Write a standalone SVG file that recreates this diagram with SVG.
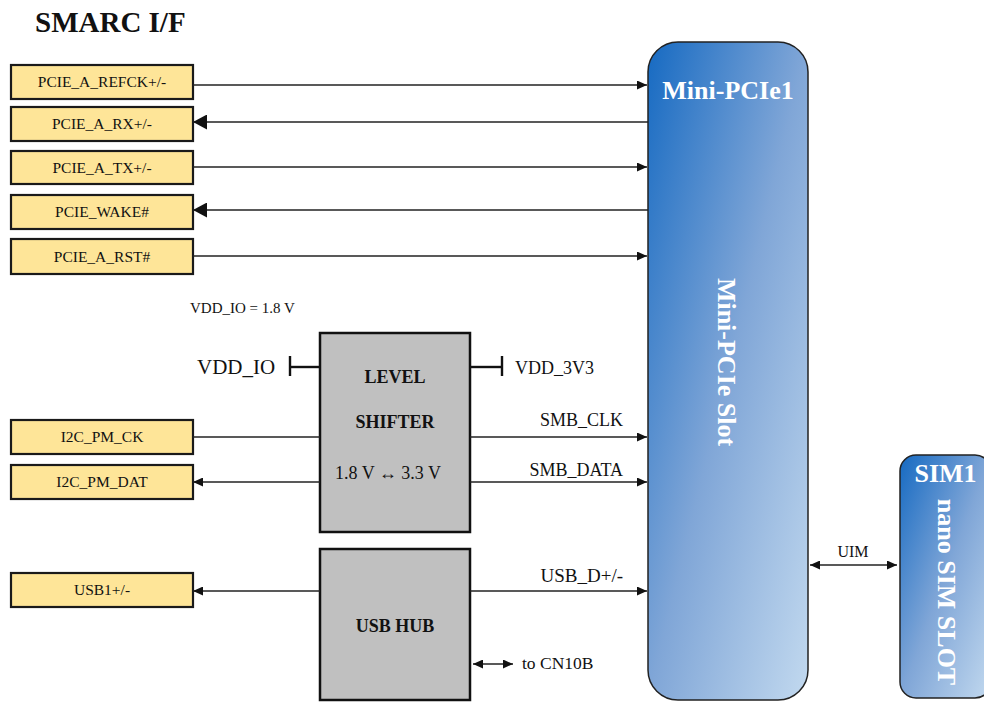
<svg xmlns="http://www.w3.org/2000/svg" width="984" height="702" viewBox="0 0 984 702">
<style>
text{font-family:"Liberation Serif","Times New Roman",serif;fill:#111}
.y rect{fill:#fee598;stroke:#1a1a1a;stroke-width:2.2}
.y text{font-size:15.5px;text-anchor:middle}
.g rect{fill:#c0c0c0;stroke:#111;stroke-width:2.5}
.g text{font-size:18px;text-anchor:middle;font-weight:bold}
.w{fill:#fff;font-weight:bold;font-size:26px;text-anchor:middle}
.ln{stroke:#222;stroke-width:1.4;fill:none}
.pw{stroke:#111;stroke-width:2.4;fill:none}
</style>
<defs>
<linearGradient id="bl" x1="0" y1="0" x2="1" y2="1">
<stop offset="0" stop-color="#166ac2"/>
<stop offset="0.5" stop-color="#80a6d7"/>
<stop offset="1" stop-color="#c2d9ef"/>
</linearGradient>
<marker id="as" markerUnits="userSpaceOnUse" markerWidth="10" markerHeight="9" refX="10" refY="4.5" orient="auto-start-reverse">
<path d="M0,0 L10,4.5 L0,9 z" fill="#111"/>
</marker>
<marker id="al" markerUnits="userSpaceOnUse" markerWidth="14" markerHeight="15" refX="14" refY="7.5" orient="auto">
<path d="M0,0 L14,7.5 L0,15 z" fill="#111"/>
</marker>
</defs>
<rect width="984" height="702" fill="#fff"/>

<text x="35" y="32" font-size="29" font-weight="bold">SMARC I/F</text>
<text x="190" y="313" font-size="15">VDD_IO = 1.8 V</text>

<g id="mini-pcie">
<rect x="648" y="42" width="160" height="658" rx="30" fill="url(#bl)" stroke="#222" stroke-width="1.5"/>
<text class="w" x="728" y="99">Mini-PCIe1</text>
<text class="w" transform="translate(718,362) rotate(90)">Mini-PCIe Slot</text>
</g>

<g id="sim1">
<rect x="900" y="455" width="91" height="243" rx="16" fill="url(#bl)" stroke="#222" stroke-width="1.5"/>
<text class="w" x="945.5" y="482">SIM1</text>
<text class="w" transform="translate(938,592) rotate(90)">nano SIM SLOT</text>
</g>

<g id="pcie-refck" class="y"><rect x="11" y="65" width="182" height="34"/><text x="102" y="87">PCIE_A_REFCK+/-</text></g>
<g id="pcie-rx" class="y"><rect x="11" y="107" width="182" height="34"/><text x="102" y="129">PCIE_A_RX+/-</text></g>
<g id="pcie-tx" class="y"><rect x="11" y="151" width="182" height="33"/><text x="102" y="172.5">PCIE_A_TX+/-</text></g>
<g id="pcie-wake" class="y"><rect x="11" y="195" width="182" height="34"/><text x="102" y="217">PCIE_WAKE#</text></g>
<g id="pcie-rst" class="y"><rect x="11" y="239" width="182" height="35"/><text x="102" y="261.5">PCIE_A_RST#</text></g>
<g id="i2c-ck" class="y"><rect x="11" y="420" width="182" height="34"/><text x="102" y="442">I2C_PM_CK</text></g>
<g id="i2c-dat" class="y"><rect x="11" y="465" width="182" height="34"/><text x="102" y="487">I2C_PM_DAT</text></g>
<g id="usb1" class="y"><rect x="11" y="573" width="182" height="34"/><text x="102" y="595">USB1+/-</text></g>

<g id="level-shifter" class="g">
<rect x="320" y="333" width="150" height="199"/>
<text x="395" y="383">LEVEL</text>
<text x="395" y="428">SHIFTER</text>
<text x="388" y="479" style="font-weight:normal">1.8 V ↔ 3.3 V</text>
</g>

<g id="usb-hub" class="g">
<rect x="320" y="549" width="150" height="151"/>
<text x="395" y="632">USB HUB</text>
</g>

<g id="connectors">
<line class="ln" x1="193" y1="85" x2="647" y2="85" marker-end="url(#as)"/>
<line class="ln" x1="648" y1="122" x2="193" y2="122" marker-end="url(#al)"/>
<line class="ln" x1="193" y1="167" x2="647" y2="167" marker-end="url(#as)"/>
<line class="ln" x1="648" y1="210" x2="193" y2="210" marker-end="url(#al)"/>
<line class="ln" x1="193" y1="256" x2="647" y2="256" marker-end="url(#as)"/>

<line class="pw" x1="290" y1="367" x2="320" y2="367"/>
<line class="pw" x1="290" y1="356" x2="290" y2="376"/>
<line class="pw" x1="470" y1="367" x2="502" y2="367"/>
<line class="pw" x1="502" y1="356" x2="502" y2="376"/>
<text x="197" y="374" font-size="21">VDD_IO</text>
<text x="515" y="374" font-size="18">VDD_3V3</text>

<line class="ln" x1="193" y1="437" x2="320" y2="437"/>
<line class="ln" x1="470" y1="437" x2="647" y2="437" marker-end="url(#as)"/>
<text x="623" y="426" font-size="18" text-anchor="end">SMB_CLK</text>
<line class="ln" x1="320" y1="482" x2="193" y2="482" marker-end="url(#as)"/>
<line class="ln" x1="470" y1="482" x2="647" y2="482" marker-end="url(#as)"/>
<text x="623" y="476" font-size="18" text-anchor="end">SMB_DATA</text>

<line class="ln" x1="320" y1="591" x2="193" y2="591" marker-end="url(#as)"/>
<line class="ln" x1="470" y1="591" x2="647" y2="591" marker-end="url(#as)"/>
<text x="623" y="582" font-size="19" text-anchor="end">USB_D+/-</text>

<line class="ln" x1="473" y1="664" x2="513" y2="664" marker-start="url(#as)" marker-end="url(#as)"/>
<text x="522" y="669" font-size="17.5">to CN10B</text>

<line class="ln" x1="810" y1="565" x2="897" y2="565" marker-start="url(#as)" marker-end="url(#as)"/>
<text x="853" y="557" font-size="16" text-anchor="middle">UIM</text>
</g>
</svg>
